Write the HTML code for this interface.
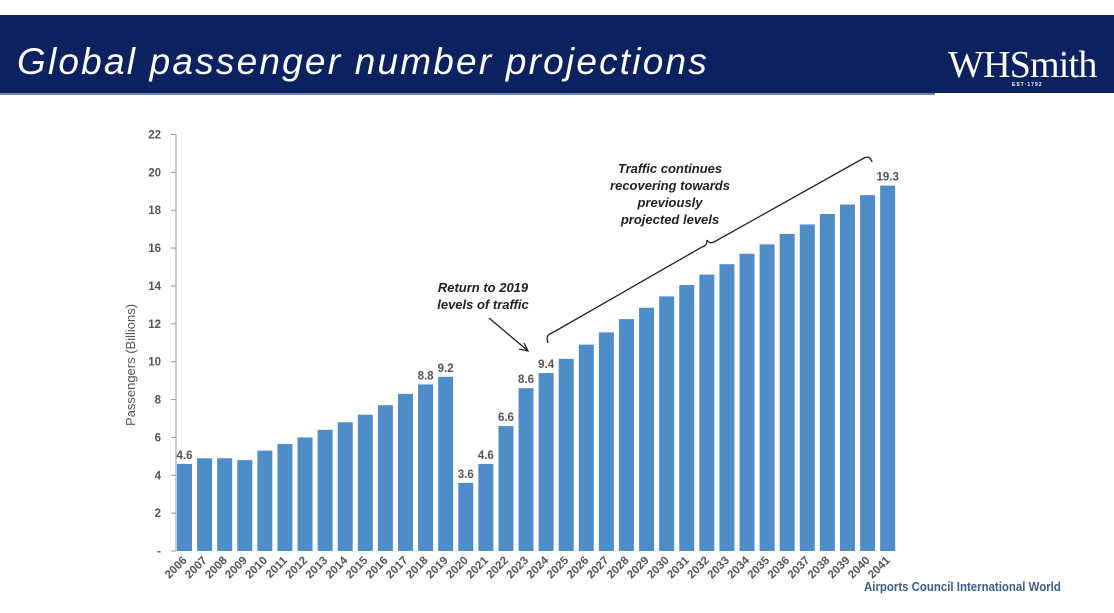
<!DOCTYPE html>
<html><head><meta charset="utf-8"><style>
body{margin:0;width:1114px;height:613px;background:#fff;overflow:hidden;font-family:"Liberation Sans",sans-serif;position:relative}
#hdr{position:absolute;left:0;top:15px;width:1114px;height:78px;background:#0b2160}
#hdrline{position:absolute;left:0;top:93px;width:935px;height:2px;background:#6f86b8}
#title{position:absolute;left:17px;top:41px;color:#fff;font-style:italic;font-size:37px;letter-spacing:2.2px}
#logo{position:absolute;left:948px;top:43px;color:#fff;font-family:"Liberation Serif",serif;font-size:38px;letter-spacing:-0.8px}
#est{position:absolute;left:1012px;top:82px;color:#fff;font-size:5px;font-weight:bold;letter-spacing:1px}
#src{position:absolute;left:864px;top:579px;color:#3a5f8c;font-size:13px;font-weight:bold;transform:scaleX(0.88);transform-origin:left}
</style></head><body>
<div id="hdr"></div>
<div id="hdrline"></div>
<div id="title">Global passenger number projections</div>
<div id="logo">WHSmith</div>
<div id="est">EST·1792</div>
<svg id="chart" width="1114" height="613" style="position:absolute;left:0;top:0"></svg>
<div id="src">Airports Council International World</div>
<script>
const years=[2006,2007,2008,2009,2010,2011,2012,2013,2014,2015,2016,2017,2018,2019,2020,2021,2022,2023,2024,2025,2026,2027,2028,2029,2030,2031,2032,2033,2034,2035,2036,2037,2038,2039,2040,2041];
const passengers=[4.6,4.9,4.9,4.8,5.3,5.65,6.0,6.4,6.8,7.2,7.7,8.3,8.8,9.2,3.6,4.6,6.6,8.6,9.4,10.15,10.9,11.55,12.25,12.85,13.45,14.05,14.6,15.15,15.7,16.2,16.75,17.25,17.8,18.3,18.8,19.3];
const labelled={2006:"4.6",2018:"8.8",2019:"9.2",2020:"3.6",2021:"4.6",2022:"6.6",2023:"8.6",2024:"9.4",2041:"19.3"};
const yTicks=[0,2,4,6,8,10,12,14,16,18,20,22];
const svg=document.getElementById('chart');const NS='http://www.w3.org/2000/svg';
const y0=551,yTop=134.5,yMax=22,x0=177,pitch=20.09,bw=15;
const y=v=>y0-(v/yMax)*(y0-yTop);
const x=i=>x0+i*pitch;
function mk(t,a,txt){const e=document.createElementNS(NS,t);for(const k in a)e.setAttribute(k,a[k]);if(txt!==undefined)e.textContent=txt;svg.appendChild(e);return e;}
let ax=mk('line',{x1:176,y1:yTop,x2:176,y2:y0,stroke:'#999','stroke-width':1});


yTicks.forEach(t=>{
 let l=mk('line',{x1:171,y1:y(t),x2:176,y2:y(t),stroke:'#999'});
 
 
 let tx=mk('text',{x:161,y:y(t)+4,'text-anchor':'end','font-size':11.5,'font-weight':'bold',fill:'#555'},t===0?'-':String(t));
 
 
});
let yt=mk('text',{x:0,y:0,transform:'translate(135,365) rotate(-90)','text-anchor':'middle','font-size':13,fill:'#555'},'Passengers (Billions)');


years.forEach((yr,i)=>{
 let r=mk('rect',{x:x(i),y:y(passengers[i]),width:bw,height:y0-y(passengers[i]),fill:'#4f8dc9'});
 
 
 let cx=x(i)+bw/2+3;
 let t=mk('text',{x:cx,y:561,transform:`rotate(-45 ${cx} 561)`,'text-anchor':'end','font-size':11.5,'font-weight':'bold',fill:'#555'},String(yr));
 
 
 if(labelled[yr]){
  let v=mk('text',{x:x(i)+bw/2,y:y(passengers[i])-5,'text-anchor':'middle','font-size':11.5,'font-weight':'bold',fill:'#555'},labelled[yr]);
  
  
 }
});
let a1=mk('text',{x:483,y:292,'text-anchor':'middle','font-size':13,'font-weight':'bold','font-style':'italic',fill:'#222'},'Return to 2019');


let a2=mk('text',{x:483,y:309,'text-anchor':'middle','font-size':13,'font-weight':'bold','font-style':'italic',fill:'#222'},'levels of traffic');


let arr=mk('path',{d:'M489 318 L527 350 M519 349 L528 351 L524 343',stroke:'#222','stroke-width':1.3,fill:'none'});


['Traffic continues','recovering towards','previously','projected levels'].forEach((s,k)=>{
 let t=mk('text',{x:670,y:173+k*17,'text-anchor':'middle','font-size':13,'font-weight':'bold','font-style':'italic',fill:'#222'},s);
 
 
});
let br=mk('path',{d:'M548 343 Q545 335 552 333 L702 247 Q707 246 707 240 Q709 244 714 242 L864 158 Q870 155 872 162',stroke:'#222','stroke-width':1.3,fill:'none'});


</script>
</body></html>
